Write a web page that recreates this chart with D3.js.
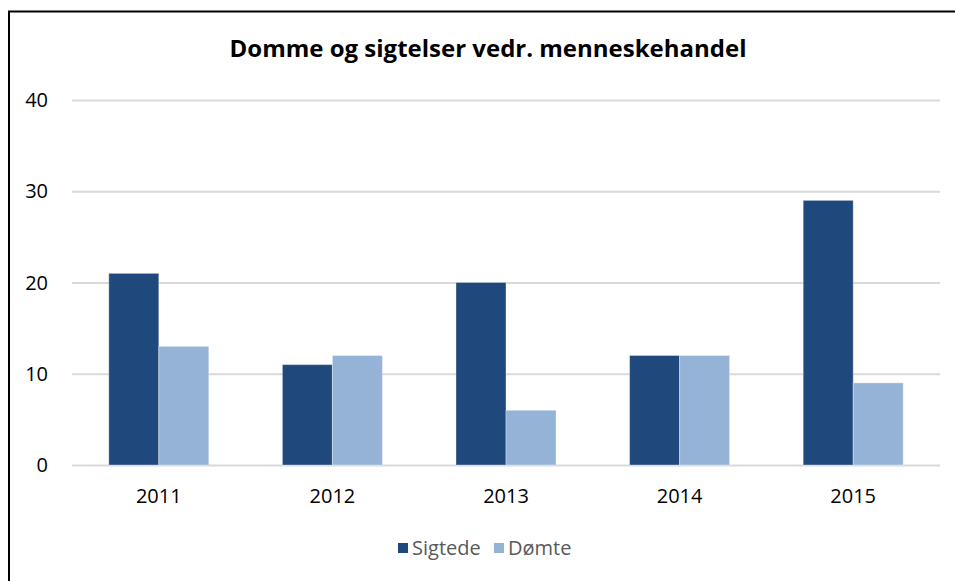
<!DOCTYPE html>
<html>
<head>
<meta charset="utf-8">
<script src="https://cdn.jsdelivr.net/npm/d3@7"></script>
<style>
  body { margin: 0; background: #fff; }
  text { font-family: "Open Sans", sans-serif; }
</style>
</head>
<body>
<div id="chart"></div>
<script>
const years = ["2011", "2012", "2013", "2014", "2015"];
const seriesNames = ["Sigtede", "Dømte"];
const sigtede = [21, 11, 20, 12, 29];
const domte = [13, 12, 6, 12, 9];
const yTicks = [0, 10, 20, 30, 40];
const colors = ["#1f497d", "#95b3d7"];

const width = 955, height = 581;
const margin = { top: 100, right: 15, bottom: 116, left: 72 };

const svg = d3.select("#chart").append("svg")
  .attr("width", width).attr("height", height);

// outer frame (only top and left visible)
svg.append("path")
  .attr("d", `M9,${height} V11.5 H${width}`)
  .attr("fill", "none").attr("stroke", "#000").attr("stroke-width", 2);

svg.append("text")
  .attr("x", 488).attr("y", 57)
  .attr("text-anchor", "middle")
  .attr("font-size", 24).attr("font-weight", 700).attr("fill", "#000")
  .text("Domme og sigtelser vedr. menneskehandel");

const x0 = d3.scaleBand().domain(years)
  .range([margin.left, width - margin.right])
  .paddingInner(0.424).paddingOuter(0.212);
const x1 = d3.scaleBand().domain(seriesNames).range([0, x0.bandwidth()]);
const y = d3.scaleLinear().domain([0, 40]).range([height - margin.bottom, margin.top]);

// gridlines
svg.append("g").selectAll("line").data(yTicks).join("line")
  .attr("x1", margin.left).attr("x2", width - margin.right)
  .attr("y1", d => y(d) + 0.5).attr("y2", d => y(d) + 0.5)
  .attr("stroke", "#d9d9d9").attr("stroke-width", 2);

// y labels
svg.append("g").selectAll("text").data(yTicks).join("text")
  .attr("x", 48).attr("y", d => y(d)).attr("dy", "0.36em")
  .attr("text-anchor", "end").attr("font-size", 20).attr("fill", "#000")
  .text(d => d);

const rows = years.map((yr, i) => ({ year: yr, values: [sigtede[i], domte[i]] }));

svg.append("g").selectAll("g").data(rows).join("g")
  .attr("transform", d => `translate(${x0(d.year)},0)`)
  .selectAll("rect").data(d => d.values.map((v, j) => ({ key: seriesNames[j], v, j })))
  .join("rect")
  .attr("x", d => x1(d.key))
  .attr("width", x1.bandwidth())
  .attr("y", d => y(d.v))
  .attr("height", d => y(0) - y(d.v))
  .attr("fill", d => colors[d.j])
  .attr("stroke", "rgba(255,255,255,0.35)").attr("stroke-width", 1);

// x labels
svg.append("g").selectAll("text").data(years).join("text")
  .attr("x", d => x0(d) + x0.bandwidth() / 2).attr("y", 503)
  .attr("text-anchor", "middle").attr("font-size", 20).attr("fill", "#000")
  .text(d => d);

// legend
const legendX = [398, 494];
const legend = svg.append("g").selectAll("g").data(seriesNames).join("g")
  .attr("transform", (d, i) => `translate(${legendX[i]},543)`);
legend.append("rect").attr("width", 10).attr("height", 10)
  .attr("fill", (d, i) => colors[i]);
legend.append("text").attr("x", 14).attr("y", 5).attr("dy", "0.36em")
  .attr("font-size", 20).attr("fill", "#595959")
  .text(d => d);
</script>
</body>
</html>
